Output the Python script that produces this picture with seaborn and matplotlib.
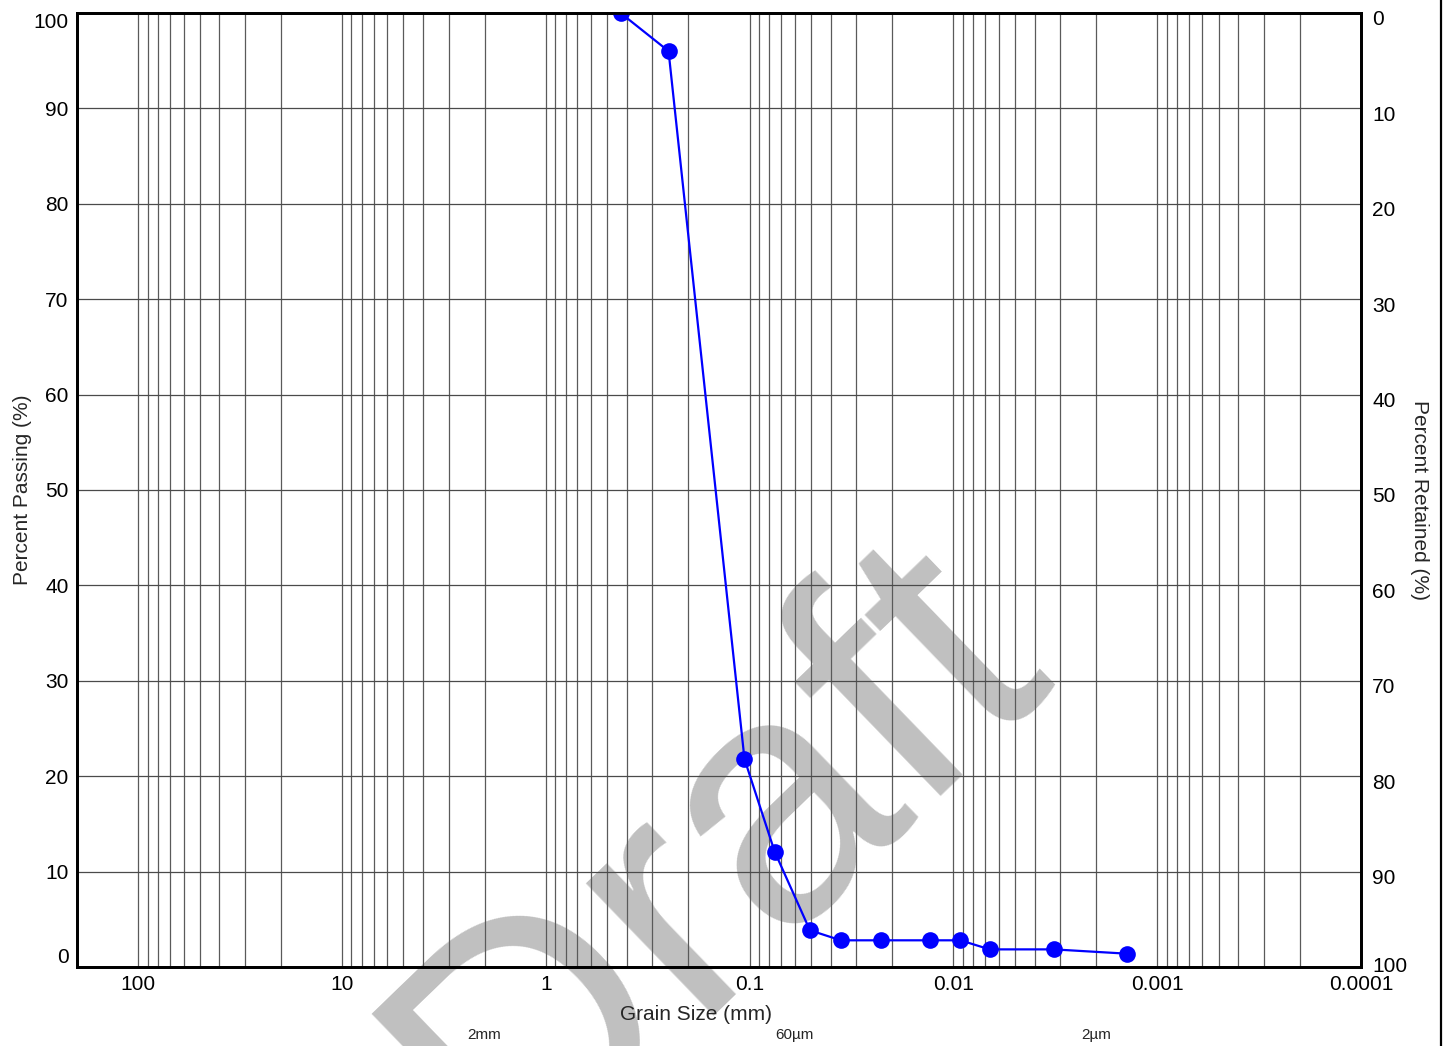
import numpy as np
import pandas as pd
import matplotlib
matplotlib.use('Agg')
import matplotlib.pyplot as plt
import matplotlib.ticker as mticker
import matplotlib.transforms as mtransforms
from matplotlib.lines import Line2D
import seaborn as sns

# grading curve data
grain_size_mm = [0.43, 0.25, 0.106, 0.0754, 0.0506, 0.0357, 0.0226, 0.0131, 0.00924, 0.00664, 0.00322, 0.00141]
percent_passing = [100, 96, 21.8, 12.1, 3.85, 2.8, 2.8, 2.8, 2.8, 1.85, 1.85, 1.4]

major_sizes = [100, 10, 1, 0.1, 0.01, 0.001, 0.0001]
major_labels = ['100', '10', '1', '0.1', '0.01', '0.001', '0.0001']
y_ticks = list(range(0, 101, 10))
size_marks = [2, 0.06, 0.002]
size_mark_labels = ['2mm', '60\u00b5m', '2\u00b5m']

df = pd.DataFrame({'size': grain_size_mm, 'passing': percent_passing})

sns.set_style('white')
plt.rcParams['font.family'] = ['Liberation Sans', 'DejaVu Sans']

fig = plt.figure(figsize=(14.44, 10.46), dpi=100)
ax = fig.add_axes([0.0533, 0.0755, 0.8892, 0.9121])
ax.set_facecolor('none')

# watermark behind everything
fig.text(0.497, 0.178, 'Draft', fontsize=250, color='#c0c0c0', rotation=44,
         ha='center', va='center', zorder=-1)

sns.lineplot(data=df, x='size', y='passing', ax=ax, color='#0000ff', linewidth=1.6,
             marker='o', markersize=12, markeredgewidth=0, sort=False, zorder=5)

ax.set_xscale('log')
ax.set_xlim(200, 0.0001)
ax.set_ylim(0, 100)

# grid lines: every 1..9 per decade vertically, every 10% horizontally
ax.xaxis.set_major_locator(mticker.FixedLocator(major_sizes))
ax.xaxis.set_major_formatter(mticker.FixedFormatter(major_labels))
ax.xaxis.set_minor_locator(mticker.LogLocator(base=10, subs=np.arange(2, 10)))
ax.xaxis.set_minor_formatter(mticker.NullFormatter())
ax.grid(which='both', axis='x', color='#5a5a5a', linewidth=0.9)
ax.set_yticks(y_ticks)
ax.grid(which='major', axis='y', color='#4a4a4a', linewidth=0.9)
ax.set_axisbelow(True)

ax.tick_params(axis='both', which='both', length=0, labelsize=15, pad=6, colors='black')
for s in ax.spines.values():
    s.set_linewidth(2)
    s.set_color('black')

ylabels = ax.get_yticklabels()
ylabels[0].set_va('bottom')
ylabels[-1].set_va('top')

ax.set_xlabel('Grain Size (mm)', fontsize=15)
ax.xaxis.set_label_coords((696 - 77) / 1284, -0.0394)
ax.set_ylabel('Percent Passing (%)', fontsize=15)
ax.yaxis.set_label_coords(-0.0352, 0.5)

# right axis: percent retained
ax2 = ax.twinx()
ax2.set_ylim(100, 0)
ax2.set_yticks(y_ticks)
ax2.tick_params(axis='y', length=0, labelsize=15, pad=8, colors='black')
ax2.set_ylabel('Percent Retained (%)', fontsize=15, rotation=-90, va='center')
ax2.yaxis.set_label_coords((1420 - 77) / 1284, 0.49)
for s in ax2.spines.values():
    s.set_linewidth(2)
    s.set_color('black')
shift = mtransforms.ScaledTranslation(0, -5 / 100, fig.dpi_scale_trans)
for i, t in enumerate(ax2.get_yticklabels()):
    if i == len(y_ticks) - 1:
        t.set_transform(t.get_transform() + mtransforms.ScaledTranslation(0, 3 / 100, fig.dpi_scale_trans))
    else:
        t.set_transform(t.get_transform() + shift)

# size class marks under the axis
trans = mtransforms.blended_transform_factory(ax.transData, fig.transFigure)
for xm, lab in zip(size_marks, size_mark_labels):
    ax.text(xm, 1 - 1035 / 1046, lab, transform=trans, fontsize=11, ha='center', va='center')

# frame line at the right edge of the image
fig.add_artist(Line2D([0.9979, 0.9979], [0, 1], transform=fig.transFigure, color='black', linewidth=1.6))

fig.savefig('out.png', dpi=100)
